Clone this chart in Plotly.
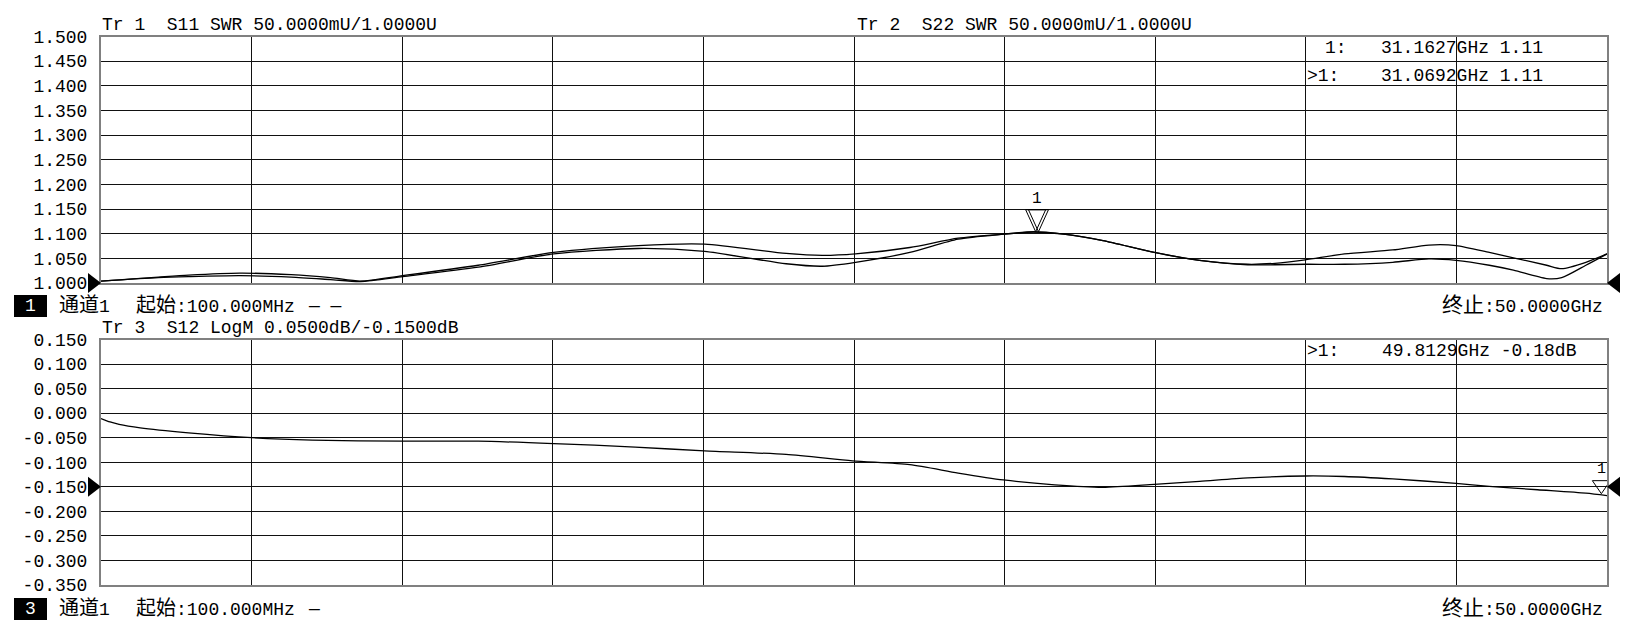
import plotly.graph_objects as go

W, H = 1633, 639

# ---------------- data ----------------
start_ghz = 0.1
stop_ghz = 50.0

freq_top_ghz = [0.1, 2.0, 3.0, 4.7, 6.4, 7.7, 8.7, 10.1, 12.6, 15.1, 17.9, 20.1,
                22.8, 24.0, 25.1, 26.9, 28.5, 30.0, 31.0, 32.0, 33.3, 35.0, 36.5,
                38.1, 39.0, 40.0, 41.3, 42.9, 44.1, 45.0, 46.1, 46.9, 48.0, 48.5,
                49.3, 50.0]
s11_swr = [1.004, 1.012, 1.016, 1.020, 1.017, 1.011, 1.004, 1.015, 1.036, 1.062,
           1.076, 1.079, 1.060, 1.056, 1.059, 1.072, 1.091, 1.099, 1.103, 1.099,
           1.086, 1.062, 1.046, 1.038, 1.040, 1.047, 1.059, 1.067, 1.077, 1.076,
           1.062, 1.051, 1.036, 1.029, 1.042, 1.059]
s22_swr = [1.004, 1.011, 1.013, 1.015, 1.012, 1.007, 1.003, 1.013, 1.032, 1.059,
           1.070, 1.064, 1.039, 1.034, 1.042, 1.062, 1.089, 1.099, 1.104, 1.099,
           1.086, 1.062, 1.046, 1.037, 1.037, 1.038, 1.038, 1.042, 1.049, 1.046,
           1.036, 1.026, 1.009, 1.011, 1.036, 1.059]

freq_bot_ghz = [0.1, 0.4, 0.7, 1.4, 3.0, 5.1, 7.1, 10.1, 12.6, 15.1, 17.8, 20.1,
                22.8, 25.0, 26.9, 28.5, 30.0, 31.7, 33.3, 35.0, 36.5, 38.1, 40.0,
                41.3, 42.9, 45.0, 46.1, 47.7, 49.3, 50.0]
s12_db = [-0.011, -0.018, -0.023, -0.030, -0.040, -0.050, -0.055, -0.057, -0.057,
          -0.062, -0.069, -0.077, -0.084, -0.097, -0.105, -0.122, -0.136, -0.146,
          -0.151, -0.145, -0.139, -0.132, -0.128, -0.129, -0.134, -0.143, -0.149,
          -0.156, -0.163, -0.168]

swr_tick_vals = [1.000, 1.050, 1.100, 1.150, 1.200, 1.250, 1.300, 1.350, 1.400, 1.450, 1.500]
swr_tick_text = ["1.000", "1.050", "1.100", "1.150", "1.200", "1.250", "1.300",
                 "1.350", "1.400", "1.450", "1.500"]
db_tick_vals = [-0.350, -0.300, -0.250, -0.200, -0.150, -0.100, -0.050, 0.000, 0.050, 0.100, 0.150]
db_tick_text = ["-0.350", "-0.300", "-0.250", "-0.200", "-0.150", "-0.100", "-0.050",
                "0.000", "0.050", "0.100", "0.150"]

ref_level_swr = 1.0
ref_level_db = -0.15

marker_top_ghz = [31.1627, 31.0692]
marker_top_swr = [1.104, 1.104]
marker_bot_ghz = [49.8129]
marker_bot_db = [-0.164]

title_tr1 = "Tr 1  S11 SWR 50.0000mU/1.0000U"
title_tr2 = "Tr 2  S22 SWR 50.0000mU/1.0000U"
title_tr3 = "Tr 3  S12 LogM 0.0500dB/-0.1500dB"
readout_top_ids = ["1:", ">1:"]
readout_top_vals = ["31.1627GHz 1.11", "31.0692GHz 1.11"]
readout_bot_ids = [">1:"]
readout_bot_vals = ["49.8129GHz -0.18dB"]
chan_label = "通道1"
start_label = "起始:100.000MHz"
stop_label = "终止:50.0000GHz"
style_top = "— —"
style_bot = "—"

# ---------------- layout helpers ----------------
def px(x):
    return x / W


def py(y):
    return 1 - y / H


MONO = "Liberation Mono, Noto Sans CJK SC, monospace"
FS = 18
x_dom = [px(101), px(1607)]
top_dom = [py(283), py(36.5)]
bot_dom = [py(585), py(339.5)]

fig = go.Figure()
line_style = dict(color="black", width=1.3, shape="spline", smoothing=0.7)
fig.add_trace(go.Scatter(x=freq_top_ghz, y=s11_swr, mode="lines", line=line_style,
                         xaxis="x", yaxis="y", hoverinfo="skip"))
fig.add_trace(go.Scatter(x=freq_top_ghz, y=s22_swr, mode="lines", line=line_style,
                         xaxis="x", yaxis="y", hoverinfo="skip"))
fig.add_trace(go.Scatter(x=freq_bot_ghz, y=s12_db, mode="lines", line=line_style,
                         xaxis="x2", yaxis="y2", hoverinfo="skip"))

axis_common = dict(showgrid=True, gridcolor="#111111", gridwidth=1, showline=True,
                   linecolor="#808080", linewidth=2, mirror=True, zeroline=False,
                   ticks="", fixedrange=True, automargin=False)
tickfont = dict(family=MONO, size=FS, color="black")
dtick = (stop_ghz - start_ghz) / 10

fig.update_layout(
    template="none",
    width=W, height=H, autosize=False, margin=dict(l=0, r=0, t=0, b=0, pad=0),
    paper_bgcolor="white", plot_bgcolor="white", showlegend=False,
    xaxis=dict(domain=x_dom, range=[start_ghz, stop_ghz], tick0=start_ghz, dtick=dtick,
               showticklabels=False, anchor="y", **axis_common),
    yaxis=dict(domain=top_dom, range=[swr_tick_vals[0], swr_tick_vals[-1]],
               tickmode="array", tickvals=swr_tick_vals, ticktext=swr_tick_text,
               tickfont=tickfont, ticklabelstandoff=8, anchor="x", **axis_common),
    xaxis2=dict(domain=x_dom, range=[start_ghz, stop_ghz], tick0=start_ghz, dtick=dtick,
                showticklabels=False, anchor="y2", **axis_common),
    yaxis2=dict(domain=bot_dom, range=[db_tick_vals[0], db_tick_vals[-1]],
                tickmode="array", tickvals=db_tick_vals, ticktext=db_tick_text,
                tickfont=tickfont, ticklabelstandoff=8, anchor="x2", **axis_common),
)

shapes = []
annos = []


def text(x, y, s, anchor="left", size=FS, color="black"):
    annos.append(dict(x=px(x), y=py(y), xref="paper", yref="paper", text=s,
                      showarrow=False, xanchor=anchor, yanchor="middle",
                      font=dict(family=MONO, size=size, color=color)))


def level_to_paper(lvl, dom, lo, hi):
    return dom[0] + (lvl - lo) / (hi - lo) * (dom[1] - dom[0])


# reference-level triangles (paper-anchored so they are not clipped)
for lvl, dom, ticks in ((ref_level_swr, top_dom, swr_tick_vals),
                        (ref_level_db, bot_dom, db_tick_vals)):
    yp = level_to_paper(lvl, dom, ticks[0], ticks[-1])
    for xa, path in ((x_dom[0], "M -13,10 L 0,0 L -13,-10 Z"),
                     (x_dom[1], "M 13,10 L 0,0 L 13,-10 Z")):
        shapes.append(dict(type="path", xref="paper", yref="paper", xsizemode="pixel",
                           ysizemode="pixel", xanchor=xa, yanchor=yp, path=path,
                           fillcolor="black", line=dict(width=0)))

# marker triangles
for f, v in zip(marker_top_ghz, marker_top_swr):
    shapes.append(dict(type="path", xref="x", yref="y", xsizemode="pixel",
                       ysizemode="pixel", xanchor=f, yanchor=v,
                       path="M -10,22 L 10,22 L 0,0 Z", fillcolor="rgba(0,0,0,0)",
                       line=dict(color="black", width=1)))
annos.append(dict(x=marker_top_ghz[0], y=marker_top_swr[0], xref="x", yref="y", text="1",
                  showarrow=False, yshift=33, xshift=-1,
                  font=dict(family=MONO, size=16, color="black")))
for f, v in zip(marker_bot_ghz, marker_bot_db):
    shapes.append(dict(type="path", xref="x2", yref="y2", xsizemode="pixel",
                       ysizemode="pixel", xanchor=f, yanchor=v,
                       path="M -9,13 L 9,13 L 0,0 Z", fillcolor="rgba(0,0,0,0)",
                       line=dict(color="black", width=1)))
    annos.append(dict(x=f, y=v, xref="x2", yref="y2", text="1", showarrow=False,
                      yshift=24, font=dict(family=MONO, size=15, color="black")))

# trace titles and readouts
text(100, 25, title_tr1)
text(855, 25, title_tr2)
text(100, 328, title_tr3)
text(1323, 48, readout_top_ids[0])
text(1379, 48, readout_top_vals[0])
text(1305, 76, readout_top_ids[1])
text(1379, 76, readout_top_vals[1])
text(1305, 351, readout_bot_ids[0])
text(1380, 351, readout_bot_vals[0])

# channel lines
for ybox, num, style in ((306, "1", style_top), (609, "3", style_bot)):
    shapes.append(dict(type="rect", xref="paper", yref="paper", x0=px(14), x1=px(47),
                       y0=py(ybox + 11), y1=py(ybox - 11), fillcolor="black",
                       line=dict(width=0)))
    text(30.5, ybox, num, anchor="center", color="white")
    text(57, ybox, "<span style='font-size:20px'>" + chan_label[:2] + "</span>" + chan_label[2:])
    text(134, ybox, "<span style='font-size:20px'>" + start_label[:2] + "</span>" + start_label[2:])
    text(306, ybox, style)
    text(1605, ybox, "<span style='font-size:21px'>" + stop_label[:2] + "</span>" + stop_label[2:],
         anchor="right")

fig.update_layout(shapes=shapes, annotations=annos)
fig.write_html("out.html", config={"responsive": False, "displayModeBar": False},
               post_script="document.body.style.margin='0';document.body.style.overflow='hidden';")
